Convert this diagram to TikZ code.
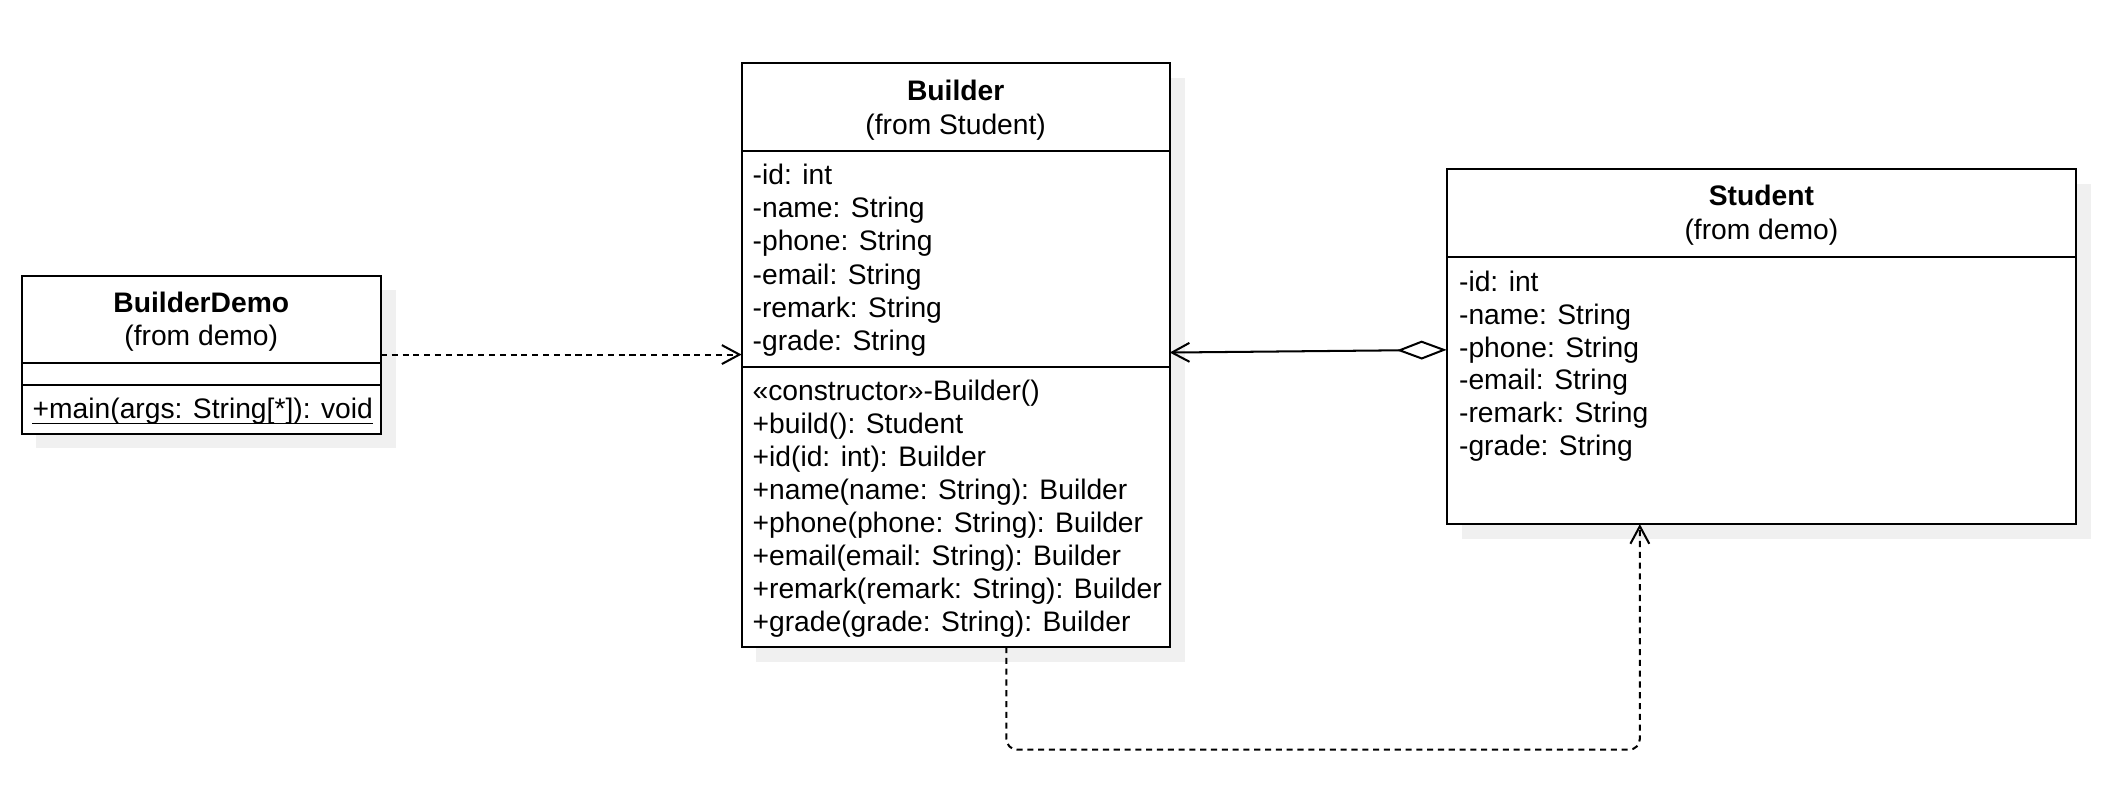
\documentclass[tikz,border=0pt]{standalone}
\usepackage{fontspec}
\setmainfont{Liberation Sans}
\usetikzlibrary{arrows.meta,shadows}
\definecolor{shadowgray}{RGB}{240,240,240}
\tikzset{
  classbox/.style={draw=black, line width=1.5pt, fill=white, inner sep=0pt, outer sep=0pt,
    drop shadow={shadow xshift=11pt, shadow yshift=-11pt, fill=shadowgray, opacity=1}},
  member/.style={anchor=base west, inner sep=0pt, font=\fontsize{20.9}{24.5}\selectfont},
  cname/.style={anchor=base, inner sep=0pt, font=\fontsize{20.9}{24.5}\selectfont\bfseries},
  cfrom/.style={anchor=base, inner sep=0pt, font=\fontsize{20.9}{24.5}\selectfont},
  sepline/.style={line width=1.5pt},
  barb/.style={-{Straight Barb[length=13pt,width=14pt,line width=1.5pt]}},
  dep/.style={line width=1.5pt, dash pattern=on 4.5pt off 3.5pt, barb},
}
\begin{document}
\begin{tikzpicture}[x=1pt,y=-1pt]
\useasboundingbox (0,0) rectangle (1568,591);

% ---------------- BuilderDemo ----------------
\node[classbox, minimum width=266pt, minimum height=117pt] (demo) at (149,262.5) {};
\draw[sepline] (demo.west |- 0,269) -- (demo.east |- 0,269);
\draw[sepline] (demo.west |- 0,285) -- (demo.east |- 0,285);
\node[cname] (demo-t) at (149,231.5) {BuilderDemo};
\node[cfrom] (demo-f) at (149,255.5) {(from demo)};
\node[member] (dm) at (24,309.5) {+main(args: String[*]): void};
\draw[line width=1.3pt] ([yshift=-4pt]dm.base west) -- ([yshift=-4pt]dm.base east);

% ---------------- Builder ----------------
\node[classbox, minimum width=317pt, minimum height=432pt] (builder) at (707.5,263) {};
\draw[sepline] (builder.west |- 0,112) -- (builder.east |- 0,112);
\draw[sepline] (builder.west |- 0,272) -- (builder.east |- 0,272);
\node[cname] (builder-t) at (707.5,74.5) {Builder};
\node[cfrom] (builder-f) at (707.5,99.5) {(from Student)};
\foreach \txt [count=\i from 0] in {{-id: int},{-name: String},{-phone: String},{-email: String},{-remark: String},{-grade: String}}
  \node[member] (ba\i) at (557,136.5+\i*24.6) {\txt};
\foreach \txt [count=\i from 0] in {{«constructor»-Builder()},{+build(): Student},{+id(id: int): Builder},{+name(name: String): Builder},{+phone(phone: String): Builder},{+email(email: String): Builder},{+remark(remark: String): Builder},{+grade(grade: String): Builder}}
  \node[member] (bm\i) at (557,296.5+\i*24.45) {\txt};

% ---------------- Student ----------------
\node[classbox, minimum width=466pt, minimum height=263pt] (student) at (1304,256.5) {};
\draw[sepline] (student.west |- 0,190) -- (student.east |- 0,190);
\node[cname] (student-t) at (1304,152.5) {Student};
\node[cfrom] (student-f) at (1304,177.5) {(from demo)};
\foreach \txt [count=\i from 0] in {{-id: int},{-name: String},{-phone: String},{-email: String},{-remark: String},{-grade: String}}
  \node[member] (sa\i) at (1080,215.5+\i*24.4) {\txt};

% ---------------- Connectors ----------------
\draw[dep] (demo.east) -- (demo.east -| builder.west);
\draw[line width=1.5pt, {Diamond[open,length=37pt,width=14pt,line width=1.5pt]}-{Straight Barb[length=13pt,width=14pt,line width=1.5pt]}]
  ([yshift=-2.5pt]student.west) -- ([yshift=2pt]builder.east);
\draw[dep, rounded corners=8pt] ([xshift=37.5pt]builder.south) -- ++(0,76) -| ([xshift=-90pt]student.south);
\end{tikzpicture}
\end{document}
